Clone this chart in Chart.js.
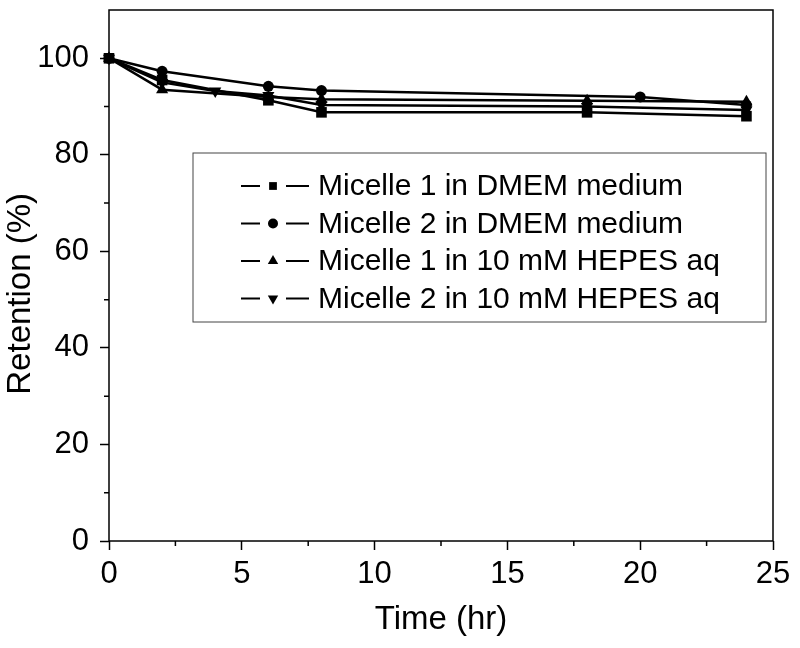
<!DOCTYPE html>
<html>
<head>
<meta charset="utf-8">
<script src="https://cdn.jsdelivr.net/npm/chart.js@4/dist/chart.umd.min.js"></script>
<style>
  html, body { margin: 0; padding: 0; background: #fff; }
  #wrap { width: 800px; height: 648px; }
</style>
</head>
<body>
<div id="wrap"><canvas id="retChart" width="800" height="648"></canvas></div>
<script>
// time points (hr) for each series
var timeM1Dmem = [0, 2, 6, 8, 18, 24];
var timeM2Dmem = [0, 2, 6, 8, 20, 24];
var timeM1Hepes = [0, 2, 6, 8, 18, 24];
var timeM2Hepes = [0, 2, 4, 6, 8, 18, 24];

// retention (%)
var retM1Dmem = [100, 95.5, 91.3, 88.8, 88.8, 88.0];
var retM2Dmem = [100, 97.3, 94.2, 93.3, 92.0, 90.3];
var retM1Hepes = [100, 93.5, 92.0, 91.5, 91.2, 91.0];
var retM2Hepes = [100, 95.0, 93.2, 92.3, 90.3, 90.0, 89.3];

var seriesLabels = [
  'Micelle 1 in DMEM medium',
  'Micelle 2 in DMEM medium',
  'Micelle 1 in 10 mM HEPES aq',
  'Micelle 2 in 10 mM HEPES aq'
];

var xTicksMajor = [0, 5, 10, 15, 20, 25];
var yTicksMajor = [0, 20, 40, 60, 80, 100];
var xTicksMinor = [2.5, 7.5, 12.5, 17.5, 22.5];
var yTicksMinor = [10, 30, 50, 70, 90];

function toPoints(xs, ys) {
  return xs.map(function (x, i) { return { x: x, y: ys[i] }; });
}

var FONT = 'Arial, "Liberation Sans", Helvetica, sans-serif';

function mkSet(i, xs, ys, style, radius, rot) {
  return {
    label: seriesLabels[i],
    data: toPoints(xs, ys),
    borderColor: '#000',
    backgroundColor: '#000',
    borderWidth: 2.5,
    pointStyle: style,
    pointRadius: radius,
    pointRotation: rot,
    pointBorderWidth: 0,
    pointBackgroundColor: '#000',
    tension: 0,
    clip: false
  };
}

var datasets = [
  mkSet(0, timeM1Dmem, retM1Dmem, 'rect', 7.5, 0),
  mkSet(1, timeM2Dmem, retM2Dmem, 'circle', 5.5, 0),
  mkSet(2, timeM1Hepes, retM1Hepes, 'triangle', 7, 0),
  mkSet(3, timeM2Hepes, retM2Hepes, 'triangle', 7, 180)
];

// frame + minor ticks
var framePlugin = {
  id: 'frame',
  beforeDatasetsDraw: function (chart) {
    var ctx = chart.ctx, a = chart.chartArea;
    var xs = chart.scales.x, ys = chart.scales.y;
    ctx.save();
    ctx.strokeStyle = '#000';
    ctx.lineWidth = 1.5;
    ctx.strokeRect(a.left, a.top, a.right - a.left, a.bottom - a.top);
    ctx.beginPath();
    xTicksMinor.forEach(function (v) {
      var px = xs.getPixelForValue(v);
      ctx.moveTo(px, a.bottom);
      ctx.lineTo(px, a.bottom + 5);
    });
    yTicksMinor.forEach(function (v) {
      var py = ys.getPixelForValue(v);
      ctx.moveTo(a.left, py);
      ctx.lineTo(a.left - 5, py);
    });
    ctx.stroke();
    ctx.restore();
  }
};

// boxed legend inside the plot
var boxLegend = {
  id: 'boxLegend',
  afterDraw: function (chart, args, opts) {
    var ctx = chart.ctx;
    ctx.save();
    ctx.strokeStyle = '#444';
    ctx.lineWidth = 1;
    ctx.strokeRect(opts.left, opts.top, opts.width, opts.height);
    var sizes = [5.5, 5, 6, 6];
    chart.data.datasets.forEach(function (ds, i) {
      var y = opts.top + opts.firstRow + i * opts.rowGap;
      ctx.strokeStyle = '#000';
      ctx.lineWidth = 1.8;
      ctx.beginPath();
      ctx.moveTo(opts.left + 48, y);
      ctx.lineTo(opts.left + 67, y);
      ctx.moveTo(opts.left + 93, y);
      ctx.lineTo(opts.left + 116, y);
      ctx.stroke();
      ctx.fillStyle = '#000';
      Chart.helpers.drawPoint(ctx, {
        pointStyle: ds.pointStyle,
        rotation: ds.pointRotation,
        radius: sizes[i],
        borderWidth: 0
      }, opts.left + 80, y);
      ctx.font = '30px ' + FONT;
      ctx.textBaseline = 'middle';
      ctx.textAlign = 'left';
      ctx.fillText(ds.label, opts.left + 125, y + 1);
    });
    ctx.restore();
  }
};

var ctx = document.getElementById('retChart').getContext('2d');
var retChart = new Chart(ctx, {
  type: 'line',
  data: { datasets: datasets },
  plugins: [framePlugin, boxLegend],
  options: {
    responsive: false,
    animation: false,
    layout: { padding: { left: 0, top: 10, right: 27, bottom: 0 } },
    plugins: {
      legend: { display: false },
      tooltip: { enabled: false },
      boxLegend: { left: 193, top: 153, width: 573, height: 169, firstRow: 33, rowGap: 37.5 }
    },
    scales: {
      x: {
        type: 'linear',
        min: 0,
        max: 25,
        afterFit: function (s) { s.height = 107; s.paddingLeft = 0; s.paddingRight = 0; },
        afterBuildTicks: function (s) { s.ticks = xTicksMajor.map(function (v) { return { value: v }; }); },
        grid: { drawOnChartArea: false, drawTicks: true, tickLength: 9, tickWidth: 1.5, tickColor: '#000' },
        border: { display: false },
        ticks: { color: '#000', padding: 6, maxRotation: 0, font: { family: FONT, size: 31 } },
        title: { display: true, text: 'Time (hr)', color: '#000', padding: { top: 0, bottom: 8 }, font: { family: FONT, size: 33 } }
      },
      y: {
        type: 'linear',
        min: 0,
        max: 110,
        afterFit: function (s) { s.width = 109; s.paddingTop = 0; s.paddingBottom = 0; },
        afterBuildTicks: function (s) { s.ticks = yTicksMajor.map(function (v) { return { value: v }; }); },
        grid: { drawOnChartArea: false, drawTicks: true, tickLength: 9, tickWidth: 1.5, tickColor: '#000' },
        border: { display: false },
        ticks: { color: '#000', padding: 11, font: { family: FONT, size: 31 } },
        title: { display: true, text: 'Retention (%)    ', color: '#000', padding: { top: 1, bottom: 0 }, font: { family: FONT, size: 33 } }
      }
    }
  }
});
</script>
</body>
</html>
